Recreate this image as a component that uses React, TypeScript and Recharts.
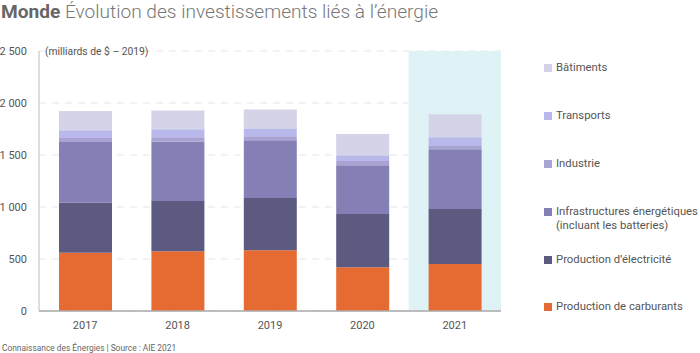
import React from "react";
import { BarChart, Bar, XAxis, YAxis, CartesianGrid, ReferenceArea } from "recharts";

const years = ["2017", "2018", "2019", "2020", "2021"];
const carburants = [560, 574, 584, 420, 452];
const electricite = [480, 484, 503, 513, 529];
const infrastructures = [585, 571, 554, 468, 574];
const industrie = [38, 41, 39, 41, 38];
const transports = [75, 77, 70, 55, 77];
const batiments = [185, 180, 187, 205, 221];
const yTicks = [0, 500, 1000, 1500, 2000, 2500];
const highlightYear = "2021";

const series = [
  { key: "carburants", name: "Production de carburants", values: carburants, color: "#E56B33" },
  { key: "electricite", name: "Production d\u2019électricité", values: electricite, color: "#5C5A80" },
  { key: "infrastructures", name: "Infrastructures énergétiques\n(incluant les batteries)", values: infrastructures, color: "#847FB5" },
  { key: "industrie", name: "Industrie", values: industrie, color: "#A9A3D3" },
  { key: "transports", name: "Transports", values: transports, color: "#B9B8EA" },
  { key: "batiments", name: "Bâtiments", values: batiments, color: "#D4D3E8" },
];

const data = years.map((y, i) => {
  const row: Record<string, string | number> = { year: y };
  series.forEach((s) => (row[s.key] = s.values[i]));
  return row;
});

const font = "Roboto, 'Noto Sans', sans-serif";
const fmt = (v: number) => (v >= 1000 ? `${Math.floor(v / 1000)} ${String(v % 1000).padStart(3, "0")}` : String(v));

const legendTops = [307, 260, 212, 164, 116, 68];

export default function App() {
  return (
    <div style={{ position: "absolute", left: 0, top: 0, width: 700, height: 353, fontFamily: font, background: "#fff" }}>
      <div style={{ position: "absolute", left: 1, top: 1, fontSize: 19.1, whiteSpace: "nowrap", lineHeight: "22px" }}>
        <span style={{ fontWeight: 700, color: "#666" }}>Monde</span>
        <span style={{ fontWeight: 300, color: "#777" }}> Évolution des investissements liés à l’énergie</span>
      </div>
      <BarChart width={700} height={353} data={data} margin={{ top: 51, right: 199, bottom: 12, left: 0 }}>
        <CartesianGrid vertical={false} stroke="#e6e6e6" strokeDasharray="7 6" />
        <ReferenceArea x1={highlightYear} x2={highlightYear} fill="#DFF3F6" fillOpacity={1} stroke="none" />
        <XAxis
          dataKey="year"
          height={30}
          axisLine={{ stroke: "#aaa", strokeWidth: 1.5 }}
          tickLine={false}
          tickMargin={4}
          tick={{ fontSize: 11, fill: "#555", fontFamily: font }}
        />
        <YAxis
          width={39}
          domain={[0, 2500]}
          ticks={yTicks}
          tickFormatter={fmt}
          axisLine={{ stroke: "#bbb" }}
          tickLine={false}
          tickSize={0}
          tickMargin={12}
          tick={{ fontSize: 11, fill: "#555", fontFamily: font }}
        />
        {series.map((s) => (
          <Bar key={s.key} dataKey={s.key} stackId="a" fill={s.color} barSize={53} isAnimationActive={false} />
        ))}
      </BarChart>
      <div style={{ position: "absolute", left: 45, top: 45, fontSize: 10.3, color: "#555", whiteSpace: "nowrap" }}>
        (milliards de $ – 2019)
      </div>
      {series.map((s, i) => (
        <div key={s.key} style={{ position: "absolute", left: 544, top: legendTops[i] - 7, display: "flex", alignItems: "flex-start" }}>
          <div style={{ width: 8, height: 8, background: s.color, marginTop: 3, marginRight: 4 }} />
          <div style={{ fontSize: 11.3, color: "#555", whiteSpace: "pre", lineHeight: "13.5px" }}>{s.name}</div>
        </div>
      ))}
      <div style={{ position: "absolute", left: 2, top: 343, fontSize: 8.4, color: "#666", whiteSpace: "nowrap" }}>
        Connaissance des Énergies | Source : AIE 2021
      </div>
    </div>
  );
}
